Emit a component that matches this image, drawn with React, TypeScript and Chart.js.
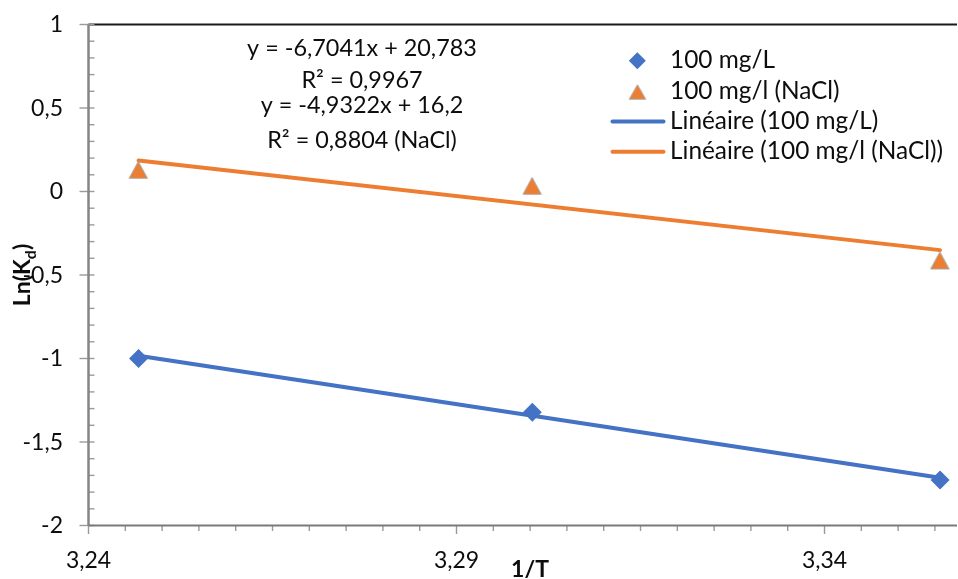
import { useEffect, useRef } from "react";
import { Chart, registerables } from "chart.js";

Chart.register(...registerables);

// 1/T values (x 1000, K^-1) for 308 K, 303 K and 298 K
const invT = [3.2468, 3.3003, 3.3557];
// Ln(Kd) per series
const lnKd100 = [-1.0, -1.322, -1.728];
const lnKdNaCl = [0.129, 0.033, -0.413];

const seriesNames = ["100 mg/L", "100 mg/l (NaCl)"];
const trendNames = ["Linéaire (100 mg/L)", "Linéaire (100 mg/l (NaCl))"];

// Linear trend lines (y = slope * x + intercept) and their R²
const trendSlopes = [-6.7041, -4.9322];
const trendIntercepts = [20.783, 16.2];
const trendR2 = [0.9967, 0.8804];
const trendSuffix = ["", " (NaCl)"];

// Axis ranges and labelled ticks
const xMin = 3.24;
const xMax = 3.358;
const xMajor = 0.05;
const xMinor = 0.005;
const yMin = -2;
const yMax = 1;
const yMajor = 0.5;
const yMinor = 0.1;
const xTicks = [3.24, 3.29, 3.34];
const yTicks = [1, 0.5, 0, -0.5, -1, -1.5, -2];

const BLUE = "#4472C4";
const ORANGE = "#ED7D31";
const FONT = "Lato, 'Open Sans', sans-serif";

const fr = (v: number) => String(v).replace(".", ",");

function triangleImage(w: number, h: number): HTMLCanvasElement {
  const c = document.createElement("canvas");
  c.width = Math.ceil(w + 2);
  c.height = Math.ceil(h + 2);
  const g = c.getContext("2d")!;
  g.beginPath();
  g.moveTo(1 + w / 2, 1);
  g.lineTo(1 + w, 1 + h);
  g.lineTo(1, 1 + h);
  g.closePath();
  g.fillStyle = ORANGE;
  g.fill();
  g.strokeStyle = "#A5A5A5";
  g.lineWidth = 1;
  g.stroke();
  return c;
}

function diamond(ctx: CanvasRenderingContext2D, cx: number, cy: number, r: number) {
  ctx.beginPath();
  ctx.moveTo(cx, cy - r);
  ctx.lineTo(cx + r, cy);
  ctx.lineTo(cx, cy + r);
  ctx.lineTo(cx - r, cy);
  ctx.closePath();
  ctx.fillStyle = BLUE;
  ctx.fill();
}

function makeDecorPlugin(legendTri: HTMLCanvasElement) {
  return {
    id: "decor",
    beforeDatasetsDraw(chart: any) {
      const { ctx, chartArea: a, scales } = chart;
      const x = scales.x;
      const y = scales.y;
      ctx.save();
      // plot area top border
      ctx.strokeStyle = "#1a1a1a";
      ctx.lineWidth = 2;
      ctx.beginPath();
      ctx.moveTo(a.left, a.top);
      ctx.lineTo(a.right, a.top);
      ctx.stroke();

      // y-axis ticks
      ctx.strokeStyle = "#9a9a9a";
      ctx.lineWidth = 1.4;
      const nY = Math.round((yMax - yMin) / yMinor);
      const perMajorY = Math.round(yMajor / yMinor);
      for (let i = 0; i <= nY; i++) {
        const py = y.getPixelForValue(yMin + i * yMinor);
        const major = i % perMajorY === 0;
        ctx.beginPath();
        ctx.moveTo(major ? a.left - 9 : a.left, py);
        ctx.lineTo(a.left + 6, py);
        ctx.stroke();
      }
      // x-axis ticks
      const nX = Math.floor((xMax - xMin) / xMinor + 1e-6);
      const perMajorX = Math.round(xMajor / xMinor);
      for (let i = 0; i <= nX; i++) {
        const px = x.getPixelForValue(xMin + i * xMinor);
        const major = i % perMajorX === 0;
        ctx.beginPath();
        ctx.moveTo(px, a.bottom);
        ctx.lineTo(px, a.bottom + (major ? 8.5 : 5.5));
        ctx.stroke();
      }

      // axis lines
      ctx.strokeStyle = "#858585";
      ctx.lineWidth = 2.5;
      ctx.beginPath();
      ctx.moveTo(a.left, a.top);
      ctx.lineTo(a.left, a.bottom);
      ctx.stroke();
      ctx.strokeStyle = "#7a7a7a";
      ctx.lineWidth = 2;
      ctx.beginPath();
      ctx.moveTo(a.left, a.bottom);
      ctx.lineTo(a.right, a.bottom);
      ctx.stroke();
      ctx.restore();
    },
    afterDraw(chart: any) {
      const { ctx, chartArea: a, scales } = chart;
      const x = scales.x;
      const y = scales.y;
      ctx.save();
      ctx.fillStyle = "#0d0d0d";
      ctx.textBaseline = "alphabetic";

      // tick labels
      ctx.font = `23px ${FONT}`;
      ctx.textAlign = "right";
      for (const v of yTicks) {
        ctx.fillText(fr(v), a.left - 25.5, y.getPixelForValue(v) + 7.8);
      }
      ctx.textAlign = "center";
      for (const v of xTicks) {
        ctx.fillText(fr(v), x.getPixelForValue(v), 567.5);
      }

      // axis titles
      ctx.font = `bold 23px ${FONT}`;
      ctx.fillText("1/T", 530, 576.5);

      ctx.save();
      ctx.translate(29.5, 275);
      ctx.rotate(-Math.PI / 2);
      ctx.textAlign = "left";
      const mainFont = `bold 23px ${FONT}`;
      const subFont = `bold 16px ${FONT}`;
      ctx.font = mainFont;
      const w1 = ctx.measureText("Ln(K").width;
      const w3 = ctx.measureText(")").width;
      ctx.font = subFont;
      const w2 = ctx.measureText("d").width;
      const start = -(w1 + w2 + w3) / 2;
      ctx.font = mainFont;
      ctx.fillText("Ln(K", start, 0);
      ctx.font = subFont;
      ctx.fillText("d", start + w1, 6);
      ctx.font = mainFont;
      ctx.fillText(")", start + w1 + w2, 0);
      ctx.restore();

      // trend line equations
      ctx.font = `23.4px ${FONT}`;
      ctx.textAlign = "center";
      const eqBase = [
        [56, 88.3],
        [113.3, 147.7],
      ];
      for (let s = 0; s < 2; s++) {
        const eq = `y = ${fr(trendSlopes[s])}x + ${fr(trendIntercepts[s])}`;
        const r2 = `R² = ${fr(trendR2[s])}${trendSuffix[s]}`;
        ctx.fillText(eq, 362, eqBase[s][0]);
        ctx.fillText(r2, 362, eqBase[s][1]);
      }

      // legend
      ctx.textAlign = "left";
      ctx.font = `24.4px ${FONT}`;
      const rows = [68.3, 98.8, 129, 159.3];
      const labels = [...seriesNames, ...trendNames];
      labels.forEach((t, i) => ctx.fillText(t, 670, rows[i]));
      diamond(ctx, 637.3, 60.7, 8.5);
      ctx.drawImage(legendTri, 637.7 - legendTri.width / 2, 92.2 - legendTri.height / 2);
      ctx.lineCap = "round";
      ctx.lineWidth = 4;
      [BLUE, ORANGE].forEach((c, i) => {
        ctx.strokeStyle = c;
        ctx.beginPath();
        ctx.moveTo(612.5, rows[i + 2] - 7.5);
        ctx.lineTo(663.5, rows[i + 2] - 7.5);
        ctx.stroke();
      });
      ctx.restore();
    },
  };
}

export default function App() {
  const ref = useRef<HTMLCanvasElement | null>(null);

  useEffect(() => {
    document.body.style.margin = "0";
    const canvas = ref.current;
    if (!canvas) return;

    const plotTri = triangleImage(18.5, 17);
    const legendTri = triangleImage(16.5, 14.5);
    const trend = (s: number) => {
      const x0 = invT[0];
      const x1 = invT[invT.length - 1];
      return [
        { x: x0, y: trendSlopes[s] * x0 + trendIntercepts[s] },
        { x: x1, y: trendSlopes[s] * x1 + trendIntercepts[s] },
      ];
    };

    const chart = new Chart(canvas, {
      type: "scatter",
      data: {
        datasets: [
          {
            label: seriesNames[0],
            data: invT.map((v, i) => ({ x: v, y: lnKd100[i] })),
            pointStyle: "rectRot",
            pointRadius: 9.5,
            backgroundColor: BLUE,
            borderWidth: 0,
            order: 0,
          },
          {
            label: seriesNames[1],
            data: invT.map((v, i) => ({ x: v, y: lnKdNaCl[i] })),
            pointStyle: plotTri,
            pointRadius: 10,
            backgroundColor: ORANGE,
            borderWidth: 0,
            order: 0,
          },
          {
            type: "line",
            label: trendNames[0],
            data: trend(0),
            borderColor: BLUE,
            borderWidth: 4,
            borderCapStyle: "round",
            pointRadius: 0,
            showLine: true,
            order: 1,
          },
          {
            type: "line",
            label: trendNames[1],
            data: trend(1),
            borderColor: ORANGE,
            borderWidth: 4,
            borderCapStyle: "round",
            pointRadius: 0,
            showLine: true,
            order: 1,
          },
        ] as any,
      },
      options: {
        animation: false,
        responsive: false,
        events: [],
        layout: {
          autoPadding: false,
          padding: { left: 88.5, top: 24.5, right: 1, bottom: 53.5 },
        },
        plugins: { legend: { display: false }, tooltip: { enabled: false } },
        scales: {
          x: { type: "linear", min: xMin, max: xMax, display: false },
          y: { type: "linear", min: yMin, max: yMax, display: false },
        },
      },
      plugins: [makeDecorPlugin(legendTri)],
    });

    if ((document as any).fonts?.load) {
      Promise.all([
        (document as any).fonts.load(`23px Lato`),
        (document as any).fonts.load(`bold 23px Lato`),
      ]).then(() => chart.update());
    }

    return () => chart.destroy();
  }, []);

  return (
    <div style={{ width: 958, height: 579 }}>
      <canvas ref={ref} width={958} height={579} style={{ display: "block" }} />
    </div>
  );
}
